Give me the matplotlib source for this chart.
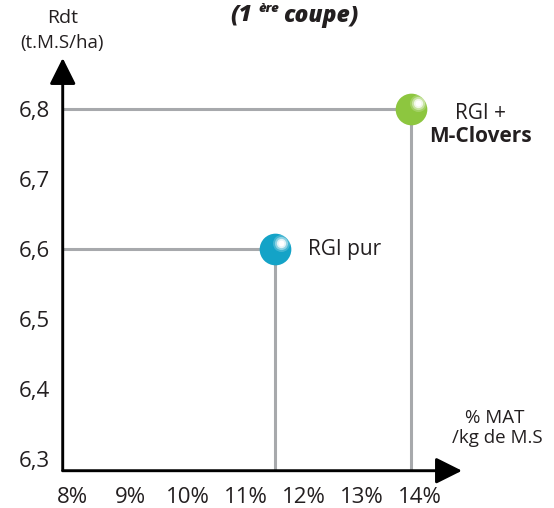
# Rendement / teneur en MAT : RGI pur vs RGI + M-Clovers (1ere coupe)
import matplotlib
matplotlib.use("Agg")
import matplotlib.pyplot as plt
from matplotlib.transforms import offset_copy

plt.rcParams["font.family"] = ["Open Sans", "DejaVu Sans"]

# data
labels = ["RGI pur", "RGI +\nM-Clovers"]
mat_pct = [11.5, 13.85]
rdt = [6.6, 6.8]
colors = ["#14a3c7", "#8dc63f"]

x_ticks = [8, 9, 10, 11, 12, 13, 14]
x_ticklabels = ["8%", "9%", "10%", "11%", "12%", "13%", "14%"]
y_ticks = [6.3, 6.4, 6.5, 6.6, 6.7, 6.8]
y_ticklabels = ["6,3", "6,4", "6,5", "6,6", "6,7", "6,8"]

TXT = "#231f20"
GRID = "#a7a9ac"


def main():
    fig = plt.figure(figsize=(5.54, 5.08), dpi=100)
    ax = fig.add_axes([0.1132, 0.0734, 0.7207, 0.8124])
    ax.set_xlim(7.84, 14.724)
    ax.set_ylim(6.2833, 6.8729)
    for s in ax.spines.values():
        s.set_visible(False)
    ax.patch.set_alpha(0)

    # axes with arrows
    ax.annotate("", xy=(1, 0), xytext=(0, 0), xycoords="axes fraction",
                arrowprops=dict(arrowstyle="-|>,head_length=0.8,head_width=0.4",
                                mutation_scale=20, lw=2.1, color="black",
                                shrinkA=0, shrinkB=0))
    ax.annotate("", xy=(0, 1), xytext=(0, 0), xycoords="axes fraction",
                arrowprops=dict(arrowstyle="-|>,head_length=0.8,head_width=0.4",
                                mutation_scale=20, lw=2.1, color="black",
                                shrinkA=0, shrinkB=0))

    ax.set_xticks(x_ticks, x_ticklabels)
    ax.set_yticks(y_ticks, y_ticklabels)
    ax.tick_params(length=0, labelsize=16, labelcolor=TXT)
    ax.tick_params(axis="x", pad=12)
    ax.tick_params(axis="y", pad=9)

    x0, y0 = ax.get_xlim()[0], ax.get_ylim()[0]
    for x, y, c in zip(mat_pct, rdt, colors):
        ax.plot([x0, x], [y, y], color=GRID, lw=2.2, zorder=1,
                solid_capstyle="butt")
        ax.plot([x, x], [y0, y], color=GRID, lw=2.2, zorder=1,
                solid_capstyle="butt")
        ax.scatter([x], [y], s=520, color=c, zorder=3, linewidths=0)
        # glossy highlight
        for size, alpha in [(150, 0.2), (90, 0.4), (45, 0.75), (18, 1.0)]:
            tr = offset_copy(ax.transData, fig=fig, x=4.5, y=4.5, units="points")
            ax.scatter([x], [y], s=size, color="white", alpha=alpha,
                       zorder=4, linewidths=0, transform=tr)

    ax.annotate(labels[0], (mat_pct[0], rdt[0]), xytext=(24, 0),
                textcoords="offset points", ha="left", va="center",
                fontsize=15, color=TXT)
    ax.annotate("RGI +", (mat_pct[1], rdt[1]), xytext=(50, -3),
                textcoords="offset points", ha="center", va="center",
                fontsize=15, color=TXT)
    ax.annotate("M-Clovers", (mat_pct[1], rdt[1]), xytext=(50, -20),
                textcoords="offset points", ha="center", va="center",
                fontsize=15, color=TXT, fontweight="bold")

    # axis titles
    fig.text(63 / 554, 1 - 18 / 508, "Rdt", ha="center", va="center",
             fontsize=14, color=TXT)
    fig.text(62 / 554, 1 - 43 / 508, "(t.M.S/ha)", ha="center", va="center",
             fontsize=13.5, color=TXT)
    fig.text(495 / 554, 1 - 418 / 508, "% MAT", ha="center", va="center",
             fontsize=13.5, color=TXT)
    fig.text(497 / 554, 1 - 438 / 508, "/kg de M.S", ha="center", va="center",
             fontsize=13.5, color=TXT)

    # chart title (partly cut off in the source)
    fig.text(252 / 554, 1 - 16 / 508, "(1", ha="right", va="center",
             fontsize=16.5, fontweight="heavy", style="italic", color=TXT)
    fig.text(258 / 554, 1 - 9 / 508, "ère", ha="left", va="center",
             fontsize=9.5, fontweight="heavy", style="italic", color=TXT)
    fig.text(283 / 554, 1 - 16 / 508, "coupe)", ha="left", va="center",
             fontsize=16.5, fontweight="heavy", style="italic", color=TXT)

    fig.savefig("out.png", dpi=100)


if __name__ == "__main__":
    main()
